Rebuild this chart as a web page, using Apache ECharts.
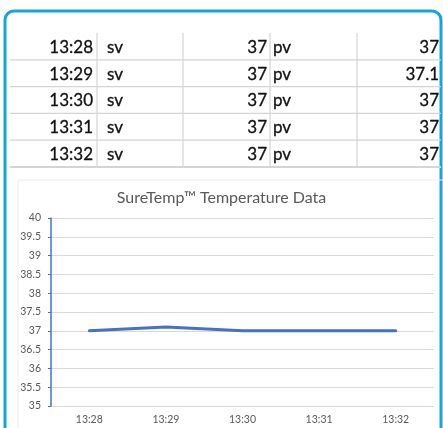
<!DOCTYPE html>
<html><head><meta charset="utf-8">
<script src="https://cdn.jsdelivr.net/npm/echarts@6/dist/echarts.min.js"></script>
<style>html,body{margin:0;padding:0;background:#fff}#c{width:443px;height:428px}</style>
</head><body><div id="c"></div>
<script>
const times = ['13:28','13:29','13:30','13:31','13:32'];
const svLabels = ['sv','sv','sv','sv','sv'];
const svValues = [37, 37, 37, 37, 37];
const pvLabels = ['pv','pv','pv','pv','pv'];
const pvValues = [37, 37.1, 37, 37, 37];
const yTicks = [35, 35.5, 36, 36.5, 37, 37.5, 38, 38.5, 39, 39.5, 40];
const title = 'SureTemp™ Temperature Data';

const chart = echarts.init(document.getElementById('c'), null, {renderer:'canvas'});
const g = [];
// outer blue frame
g.push({type:'rect', shape:{x:5, y:11, width:436, height:440, r:9}, style:{fill:'none', stroke:'#12a5e2', lineWidth:3}, z:0});
// table grid
const rowTop = 33, rowH = 26.8;
const fontT = '17px Lato';
for (let i = 0; i < times.length; i++) {
  const yb = rowTop + rowH*(i+1);
  g.push({type:'line', shape:{x1:10, y1:yb, x2:441, y2:yb}, style:{stroke:'#d4d4d4', lineWidth: i===times.length-1?2:1.2}, z:1});
  const yc = rowTop + rowH*i + rowH/2 + 1;
  g.push({type:'text', x:93, y:yc, style:{text:times[i], font:fontT, fill:'#111', align:'right', verticalAlign:'middle', stroke:'#111', lineWidth:0.3}, z:2});
  g.push({type:'text', x:107, y:yc, style:{text:svLabels[i], font:fontT, fill:'#111', align:'left', verticalAlign:'middle', stroke:'#111', lineWidth:0.3}, z:2});
  g.push({type:'text', x:267, y:yc, style:{text:String(svValues[i]), font:fontT, fill:'#111', align:'right', verticalAlign:'middle', stroke:'#111', lineWidth:0.3}, z:2});
  g.push({type:'text', x:273, y:yc, style:{text:pvLabels[i], font:fontT, fill:'#111', align:'left', verticalAlign:'middle', stroke:'#111', lineWidth:0.3}, z:2});
  g.push({type:'text', x:439, y:yc, style:{text:String(pvValues[i]), font:fontT, fill:'#111', align:'right', verticalAlign:'middle', stroke:'#111', lineWidth:0.3}, z:2});
}
[97, 183, 270, 357].forEach(x => {
  g.push({type:'line', shape:{x1:x, y1:rowTop, x2:x, y2:rowTop+rowH*times.length}, style:{stroke:'#d4d4d4', lineWidth:1.2}, z:1});
});
// chart area faint frame
g.push({type:'rect', shape:{x:18, y:180, width:430, height:260}, style:{fill:'none', stroke:'#ececec', lineWidth:1}, z:1});

chart.setOption({
  animation:false,
  backgroundColor:'#fff',
  graphic:g,
  title:{text:title, left:'center', top:185, textStyle:{fontFamily:'Lato', fontSize:16, fontWeight:'normal', color:'#595959'}},
  grid:{left:51, right:9, top:218, bottom:22, containLabel:false},
  xAxis:{type:'category', data:times, boundaryGap:true,
    axisLine:{show:false}, axisTick:{show:false},
    axisLabel:{fontFamily:'Lato', fontSize:10.5, color:'#595959', margin:8}},
  yAxis:{type:'value', min:35, max:40, interval:0.5,
    axisLine:{show:true, lineStyle:{color:'#4472c4', width:1.5}},
    axisTick:{show:true, length:3, lineStyle:{color:'#4472c4'}},
    splitLine:{lineStyle:{color:'#d9d9d9', width:1}},
    axisLabel:{fontFamily:'Lato', fontSize:10.5, color:'#595959', margin:10,
      formatter: v => yTicks.includes(v) ? String(v) : ''}},
  series:[{type:'line', data:pvValues, showSymbol:false, symbol:'none',
    lineStyle:{color:'#4472c4', width:3, cap:'round'}, z:5}]
});
</script></body></html>
